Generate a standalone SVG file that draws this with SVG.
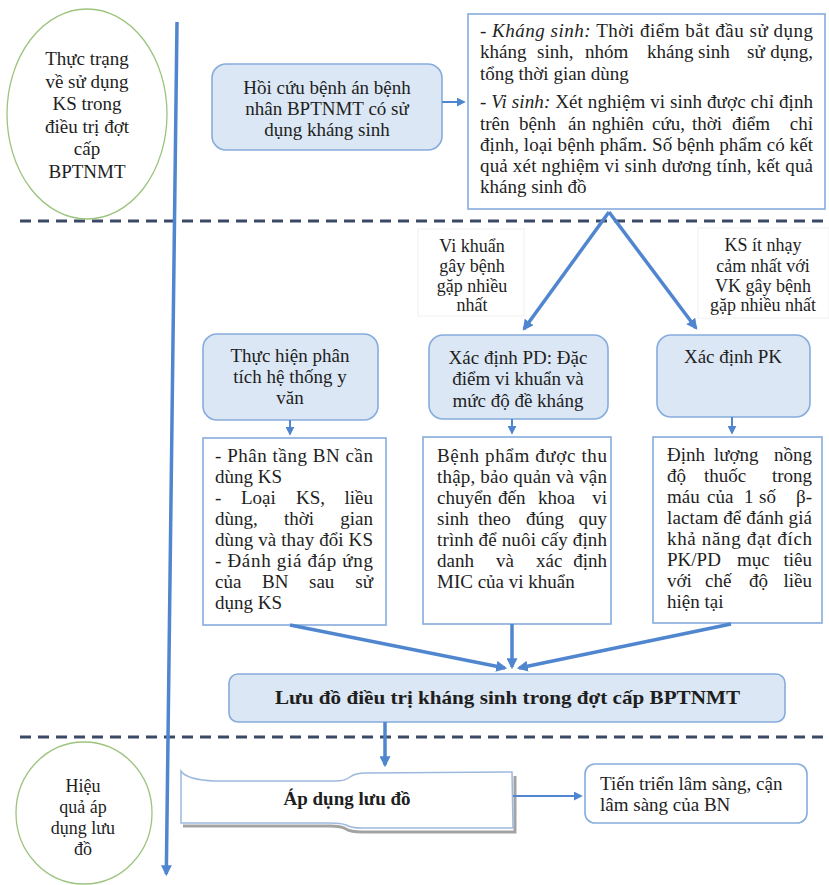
<svg xmlns="http://www.w3.org/2000/svg" width="829" height="885" viewBox="0 0 829 885">
<defs>
<marker id="ah" viewBox="0 0 10 10" refX="8" refY="5" markerWidth="11" markerHeight="11" markerUnits="userSpaceOnUse" orient="auto"><path d="M0,0 L10,5 L0,10 z" fill="#4f86cf"/></marker>
<marker id="ahs" viewBox="0 0 10 10" refX="8" refY="5" markerWidth="9" markerHeight="9" markerUnits="userSpaceOnUse" orient="auto"><path d="M0,0 L10,5 L0,10 z" fill="#4f86cf"/></marker>
</defs>
<style>
text{font-family:"Liberation Serif","Times New Roman",serif;font-size:19px;fill:#1e1e1e}
.c{text-anchor:middle}
.e{text-anchor:end}
.b{font-weight:bold}
.lbl{font-size:18px}
.box{fill:#dbe7f4;stroke:#86acdc;stroke-width:1.6}
.wbox{fill:#ffffff;stroke:#86acdc;stroke-width:1.6}
.oval{fill:#ffffff;stroke:#9cc47e;stroke-width:1.3}
.dash{stroke:#3a4a66;stroke-width:3;stroke-dasharray:11 7;fill:none}
.thick{stroke:#4f86cf;stroke-width:3.5;fill:none}
.thin{stroke:#4f86cf;stroke-width:2;fill:none}
</style>
<rect width="829" height="885" fill="#ffffff"/>

<g id="separators">
<line class="dash" x1="20" y1="221" x2="829" y2="221"/>
<line class="dash" x1="20" y1="737" x2="829" y2="737"/>
</g>

<g id="oval-top">
<ellipse class="oval" cx="87" cy="114" rx="80" ry="105"/>
<text class="c" x="87" y="65">Thực trạng</text>
<text class="c" x="87" y="87.6">về sử dụng</text>
<text class="c" x="87" y="110.2">KS trong</text>
<text class="c" x="87" y="132.8">điều trị đợt</text>
<text class="c" x="87" y="155.4">cấp</text>
<text class="c" x="87" y="178">BPTNMT</text>
</g>

<g id="oval-bottom">
<ellipse class="oval" cx="84" cy="813" rx="68" ry="71"/>
<text class="c lbl" x="83" y="792">Hiệu</text>
<text class="c lbl" x="83" y="813">quả áp</text>
<text class="c lbl" x="83" y="834">dụng lưu</text>
<text class="c lbl" x="83" y="855">đồ</text>
</g>

<g id="hoi-cuu">
<rect class="box" x="212" y="64" width="230" height="86" rx="14"/>
<text class="c" x="327" y="94">Hồi cứu bệnh án bệnh</text>
<text class="c" x="327" y="115">nhân BPTNMT có sử</text>
<text class="c" x="327" y="136">dụng kháng sinh</text>
</g>

<g id="detail-top">
<rect class="wbox" x="468" y="14" width="357" height="195"/>
<text x="480" y="37" textLength="333" lengthAdjust="spacing">- <tspan font-style="italic">Kháng sinh:</tspan> Thời điểm bắt đầu sử dụng</text>
<text y="58"><tspan x="480">kháng</tspan><tspan x="537">sinh,</tspan><tspan x="585">nhóm</tspan><tspan x="647">kháng</tspan><tspan x="698">sinh</tspan><tspan x="747">sử</tspan></text>
<text class="e" x="813" y="58">dụng,</text>
<text x="480" y="80">tổng thời gian dùng</text>
<text x="480" y="108" textLength="333" lengthAdjust="spacing">- <tspan font-style="italic">Vi sinh:</tspan> Xét nghiệm vi sinh được chỉ định</text>
<text y="130"><tspan x="480">trên</tspan><tspan x="519">bệnh</tspan><tspan x="568">án</tspan><tspan x="592">nghiên</tspan><tspan x="652">cứu,</tspan><tspan x="692">thời</tspan><tspan x="732">điểm</tspan></text>
<text class="e" x="813" y="130">chỉ</text>
<text x="480" y="151" textLength="333" lengthAdjust="spacing">định, loại bệnh phẩm. Số bệnh phẩm có kết</text>
<text x="480" y="172" textLength="333" lengthAdjust="spacing">quả xét nghiệm vi sinh dương tính, kết quả</text>
<text x="480" y="193">kháng sinh đồ</text>
</g>

<g id="label-vk">
<rect x="418" y="229" width="106" height="87" fill="#ffffff" stroke="#f0f0f0" stroke-width="1"/>
<text class="c lbl" x="472" y="252">Vi khuẩn</text>
<text class="c lbl" x="472" y="272">gây bệnh</text>
<text class="c lbl" x="472" y="292">gặp nhiều</text>
<text class="c lbl" x="472" y="311">nhất</text>
</g>

<g id="label-ks">
<rect x="698" y="228" width="131" height="90" fill="#ffffff" stroke="#f0f0f0" stroke-width="1"/>
<text class="c lbl" x="763" y="251">KS ít nhạy</text>
<text class="c lbl" x="763" y="272">cảm nhất với</text>
<text class="c lbl" x="763" y="292">VK gây bệnh</text>
<text class="c lbl" x="763" y="311">gặp nhiều nhất</text>
</g>

<g id="phan-tich">
<rect class="box" x="203" y="334" width="175" height="86" rx="14"/>
<text class="c" x="290" y="362">Thực hiện phân</text>
<text class="c" x="290" y="383">tích hệ thống y</text>
<text class="c" x="290" y="404">văn</text>
</g>

<g id="pd">
<rect class="box" x="429" y="335" width="179" height="84" rx="14"/>
<text class="c" x="518" y="364">Xác định PD: Đặc</text>
<text class="c" x="518" y="385">điểm vi khuẩn và</text>
<text class="c" x="518" y="407">mức độ đề kháng</text>
</g>

<g id="pk">
<rect class="box" x="657" y="335" width="153" height="82" rx="14"/>
<text class="c" x="733" y="363">Xác định PK</text>
</g>

<g id="phan-tich-detail">
<rect class="wbox" x="203" y="438" width="183" height="187"/>
<text x="215" y="462" textLength="158" lengthAdjust="spacing">- Phân tầng BN cần</text>
<text x="215" y="483">dùng KS</text>
<text y="504"><tspan x="215">-</tspan><tspan x="241">Loại</tspan><tspan x="296">KS,</tspan></text>
<text class="e" x="373" y="504">liều</text>
<text y="525"><tspan x="215">dùng,</tspan><tspan x="284">thời</tspan></text>
<text class="e" x="373" y="525">gian</text>
<text x="215" y="546" textLength="158" lengthAdjust="spacing">dùng và thay đổi KS</text>
<text x="215" y="567" textLength="158" lengthAdjust="spacing">- Đánh giá đáp ứng</text>
<text y="588"><tspan x="215">của</tspan><tspan x="262">BN</tspan><tspan x="309">sau</tspan></text>
<text class="e" x="373" y="588">sử</text>
<text x="215" y="609">dụng KS</text>
</g>

<g id="pd-detail">
<rect class="wbox" x="423" y="437" width="188" height="187"/>
<text x="437" y="462" textLength="170" lengthAdjust="spacing">Bệnh phẩm được thu</text>
<text x="437" y="483" textLength="170" lengthAdjust="spacing">thập, bảo quản và vận</text>
<text y="504"><tspan x="437">chuyển</tspan><tspan x="498">đến</tspan><tspan x="538">khoa</tspan></text>
<text class="e" x="607" y="504">vi</text>
<text y="525"><tspan x="437">sinh</tspan><tspan x="478">theo</tspan><tspan x="526">đúng</tspan></text>
<text class="e" x="607" y="525">quy</text>
<text x="437" y="546" textLength="170" lengthAdjust="spacing">trình để nuôi cấy định</text>
<text y="567"><tspan x="437">danh</tspan><tspan x="496">và</tspan><tspan x="536">xác</tspan></text>
<text class="e" x="607" y="567">định</text>
<text x="437" y="588">MIC của vi khuẩn</text>
</g>

<g id="pk-detail">
<rect class="wbox" x="653" y="437" width="169" height="186"/>
<text y="461"><tspan x="667">Định</tspan><tspan x="714">lượng</tspan></text>
<text class="e" x="812" y="461">nồng</text>
<text y="482"><tspan x="667">độ</tspan><tspan x="704">thuốc</tspan></text>
<text class="e" x="812" y="482">trong</text>
<text y="503"><tspan x="667">máu</tspan><tspan x="707">của</tspan><tspan x="744">1</tspan><tspan x="759">số</tspan></text>
<text class="e" x="812" y="503">β-</text>
<text x="667" y="524" textLength="145" lengthAdjust="spacing">lactam để đánh giá</text>
<text x="667" y="545" textLength="145" lengthAdjust="spacing">khả năng đạt đích</text>
<text y="566"><tspan x="667">PK/PD</tspan><tspan x="737">mục</tspan></text>
<text class="e" x="812" y="566">tiêu</text>
<text y="587"><tspan x="667">với</tspan><tspan x="705">chế</tspan><tspan x="749">độ</tspan></text>
<text class="e" x="812" y="587">liều</text>
<text x="667" y="608">hiện tại</text>
</g>

<g id="luu-do">
<rect class="box" x="229" y="674" width="556" height="48" rx="9"/>
<text class="b" x="275" y="704" font-size="22.5" textLength="465" lengthAdjust="spacingAndGlyphs">Lưu đồ điều trị kháng sinh trong đợt cấp BPTNMT</text>
</g>

<g id="ap-dung">
<path d="M183,826 L330,826 Q341,826 346,829 Q351,832 362,832 L515,832 L515,776" fill="none" stroke="#a3a3a3" stroke-width="3"/>
<path d="M181,771 Q187,780 215,781 L335,781 Q345,781 350,777 Q355,773 366,773 L512,772 L513,828 L362,828 Q351,828 346,825 Q341,823 330,823 L181,823 Z" fill="#ffffff" stroke="#9db9de" stroke-width="1.5"/>
<text class="c b" x="347" y="805">Áp dụng lưu đồ</text>
</g>

<g id="tien-trien">
<rect class="wbox" x="585" y="764" width="222" height="59" rx="10"/>
<text x="600" y="790" font-size="19.5">Tiến triển lâm sàng, cận</text>
<text x="600" y="811" font-size="19.5">lâm sàng của BN</text>
</g>

<g id="connectors">
<line class="thick" x1="177" y1="22" x2="166.3" y2="874" marker-end="url(#ah)"/>
<line class="thin" x1="442" y1="102" x2="464" y2="102" marker-end="url(#ahs)"/>
<line class="thick" x1="609" y1="212" x2="524" y2="329" marker-end="url(#ah)"/>
<line class="thick" x1="609" y1="212" x2="696" y2="328" marker-end="url(#ah)"/>
<line class="thin" x1="290" y1="420" x2="290" y2="434" marker-end="url(#ahs)"/>
<line class="thin" x1="512" y1="419" x2="512" y2="433" marker-end="url(#ahs)"/>
<line class="thin" x1="732" y1="417" x2="732" y2="433" marker-end="url(#ahs)"/>
<line class="thick" x1="290" y1="625" x2="505" y2="668" marker-end="url(#ah)"/>
<line class="thick" x1="512" y1="624" x2="512" y2="667" marker-end="url(#ah)"/>
<line class="thick" x1="731" y1="624" x2="519" y2="668" marker-end="url(#ah)"/>
<line class="thick" x1="385" y1="722" x2="385" y2="765" marker-end="url(#ah)"/>
<line class="thin" x1="513" y1="796" x2="581" y2="796" marker-end="url(#ahs)"/>
</g>
</svg>
